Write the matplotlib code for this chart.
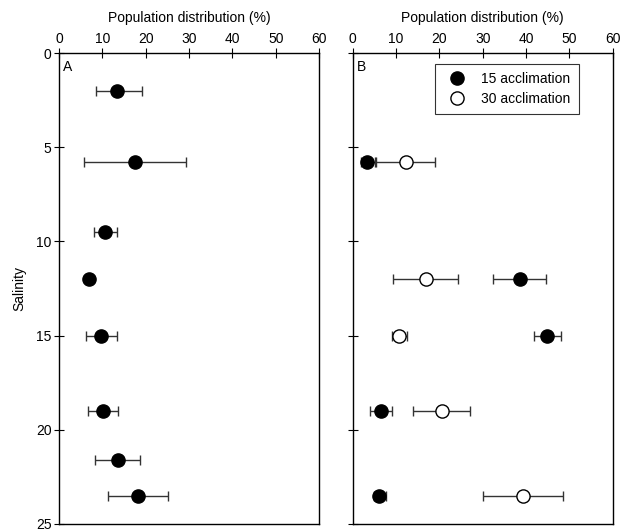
import numpy as np
import matplotlib
matplotlib.use("Agg")
import matplotlib.pyplot as plt
from matplotlib.lines import Line2D

plt.rcParams['font.family'] = ['Liberation Sans', 'DejaVu Sans']
plt.rcParams['font.size'] = 10

# panel A - 15 acclimation
sal_a = [2.0, 5.8, 9.5, 12.0, 15.0, 19.0, 21.6, 23.5]
pop_a = [13.4, 17.5, 10.7, 6.9, 9.7, 10.1, 13.5, 18.2]
err_a_lo = [8.5, 5.7, 8.1, 6.3, 6.2, 6.8, 8.2, 11.3]
err_a_hi = [19.2, 29.2, 13.3, 7.5, 13.3, 13.5, 18.6, 25.2]

# panel B
sal_b = [5.8, 12.0, 15.0, 19.0, 23.5]
pop_b15 = [3.4, 38.5, 44.9, 6.5, 6.1]
err_b15_lo = [1.8, 32.4, 41.8, 4.1, 4.8]
err_b15_hi = [5.2, 44.5, 48.1, 9.1, 7.7]
pop_b30 = [12.2, 16.8, 10.7, 20.6, 39.3]
err_b30_lo = [5.3, 9.4, 9.0, 14.0, 30.1]
err_b30_hi = [19.1, 24.2, 12.5, 27.0, 48.6]


def xerr(v, lo, hi):
    v = np.array(v)
    return [v - np.array(lo), np.array(hi) - v]


fig = plt.figure(figsize=(6.2, 5.29), dpi=100)
axA = fig.add_axes([0.0952, 0.0095, 0.4194, 0.8903])
axB = fig.add_axes([0.5689, 0.0095, 0.4194, 0.8903])

ekw = dict(ecolor='#333333', elinewidth=1, capsize=3.3, capthick=1, linestyle='none',
           markersize=9.5, markeredgecolor='black', markeredgewidth=1)

axA.errorbar(pop_a, sal_a, xerr=xerr(pop_a, err_a_lo, err_a_hi), fmt='o',
             markerfacecolor='black', **ekw)
axB.errorbar(pop_b30, sal_b, xerr=xerr(pop_b30, err_b30_lo, err_b30_hi), fmt='o',
             markerfacecolor='white', zorder=3, **ekw)
axB.errorbar(pop_b15, sal_b, xerr=xerr(pop_b15, err_b15_lo, err_b15_hi), fmt='o',
             markerfacecolor='black', zorder=4, **ekw)

for ax, lab in [(axA, 'A'), (axB, 'B')]:
    ax.set_xlim(0, 60)
    ax.set_ylim(25, 0)
    ax.set_xticks(range(0, 61, 10))
    ax.set_yticks(range(0, 26, 5))
    ax.xaxis.tick_top()
    ax.xaxis.set_label_position('top')
    ax.set_xlabel('Population distribution (%)', fontsize=10, labelpad=7)
    ax.tick_params(direction='inout', length=7, width=0.8, pad=1.5, labelsize=10)
    ax.tick_params(axis='y', right=False, pad=2)
    for s in ax.spines.values():
        s.set_linewidth(1)
    ax.text(0.015, 0.985, lab, transform=ax.transAxes, ha='left', va='top', fontsize=10)

axA.set_ylabel('Salinity', fontsize=10, labelpad=7)
axB.set_yticklabels([])

handles = [Line2D([], [], marker='o', linestyle='none', markersize=9.5,
                  markerfacecolor='black', markeredgecolor='black'),
           Line2D([], [], marker='o', linestyle='none', markersize=9.5,
                  markerfacecolor='white', markeredgecolor='black')]
leg = axB.legend(handles, ['15 acclimation', '30 acclimation'], loc='upper right',
                 bbox_to_anchor=(0.869, 0.977), borderaxespad=0,
                 frameon=True, fancybox=False, edgecolor='black', fontsize=10,
                 handletextpad=0.7, borderpad=0.6, handlelength=2.0, labelspacing=0.4)
leg.get_frame().set_linewidth(0.8)

fig.savefig('out.png', dpi=100)
